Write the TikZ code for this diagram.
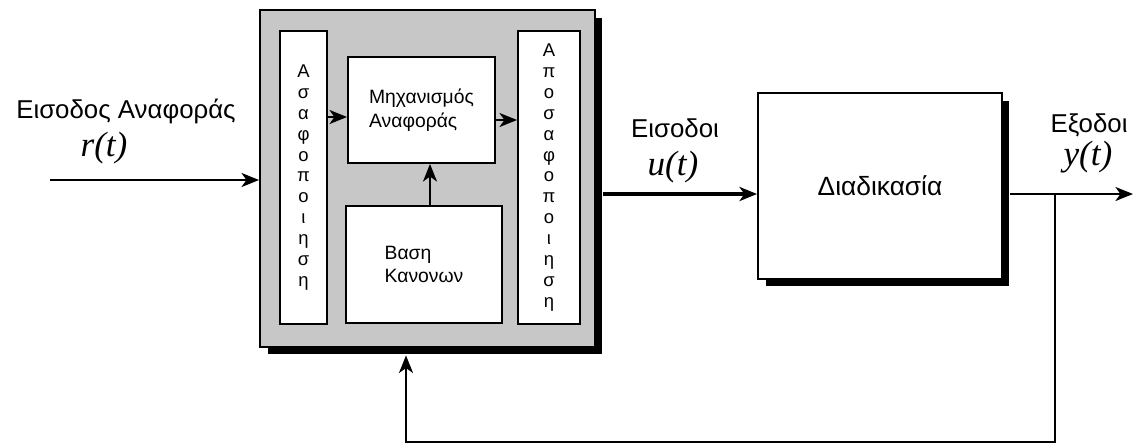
\documentclass[tikz,border=0pt]{standalone}
\usepackage{fontspec}
\setmainfont{Liberation Sans}
\newfontfamily\timesit{Liberation Serif}
\usetikzlibrary{arrows.meta,shadows}

\tikzset{
    block/.style={draw, line width=1.1pt, fill=white, inner sep=0pt},
    shadowed/.style={drop shadow={shadow xshift=0.15cm, shadow yshift=-0.15cm, opacity=1, fill=black}},
    sig/.style={line width=1.1pt, -{Stealth[length=10pt, width=8pt, inset=2.8pt]}},
    lbl/.style={font=\fontsize{14.7}{17}\selectfont},
    sym/.style={font=\fontsize{20}{22}\selectfont\timesit\itshape},
    inner txt/.style={align=left, font=\fontsize{11}{13.5}\selectfont},
    letters/.style={align=center, font=\fontsize{10.5}{11.9}\selectfont},
}

\begin{document}
\begin{tikzpicture}[x=0.02cm, y=-0.02cm]
    \useasboundingbox (0,0) rectangle (1133,444);

    % Fuzzy controller
    \node[block, shadowed, fill=black!22, minimum width=6.7cm, minimum height=6.74cm] (ctrl) at (427.5,178.5) {};
    \node[block, letters, minimum width=0.94cm, minimum height=5.86cm] (fuzz) at (303.5,177.5)
        {Α\\σ\\α\\φ\\ο\\π\\ο\\ι\\η\\σ\\η};
    \node[block, inner txt, minimum width=2.94cm, minimum height=2.12cm] (infer) at (421.5,110)
        {Μηχανισμός\\Αναφοράς};
    \node[block, inner txt, minimum width=3.12cm, minimum height=2.34cm] (rules) at (424,264.5)
        {Βαση\\Κανονων};
    \node[block, letters, minimum width=1.24cm, minimum height=5.86cm] (defuzz) at (549,177.5)
        {Α\\π\\ο\\σ\\α\\φ\\ο\\π\\ο\\ι\\η\\σ\\η};

    % Plant
    \node[block, shadowed, font=\fontsize{15}{17}\selectfont, minimum width=4.88cm, minimum height=3.72cm] (plant) at (880,186) {Διαδικασία};

    % Labels
    \node[lbl] (rlbl) at (126,111) {Εισοδος Αναφοράς};
    \node[sym] (rsym) at (104,148) {r(t)};
    \node[lbl] (ulbl) at (675,128) {Εισοδοι};
    \node[sym] (usym) at (673,167) {u(t)};
    \node[lbl] (ylbl) at (1089,125) {Εξοδοι};
    \node[sym] (ysym) at (1088,157) {y(t)};

    % Signals
    \coordinate (ref) at (50,180);
    \coordinate (u) at (0,194);
    \coordinate (out) at (1133,194);
    \coordinate (br) at (1055,194);
    \coordinate (fb) at (406,442);

    \draw[sig] (ref) -- (ref -| ctrl.west);
    \draw[sig, line width=0.9pt] (fuzz.east |- 0,117) -- (infer.west |- 0,117);
    \draw[sig, line width=0.9pt] (infer.east |- 0,120) -- (defuzz.west |- 0,120);
    \draw[sig, line width=0.9pt] (rules.north -| 430,0) -- (infer.south -| 430,0);
    \draw[sig, line width=2.2pt] ([xshift=0.15cm]u -| ctrl.east) -- (u -| plant.west);
    \draw[sig] ([xshift=0.15cm]u -| plant.east) -- (out);

    % Feedback
    \draw[sig, line width=0.9pt] (br) |- (fb) -- ([yshift=-0.15cm]fb |- ctrl.south);
\end{tikzpicture}
\end{document}
